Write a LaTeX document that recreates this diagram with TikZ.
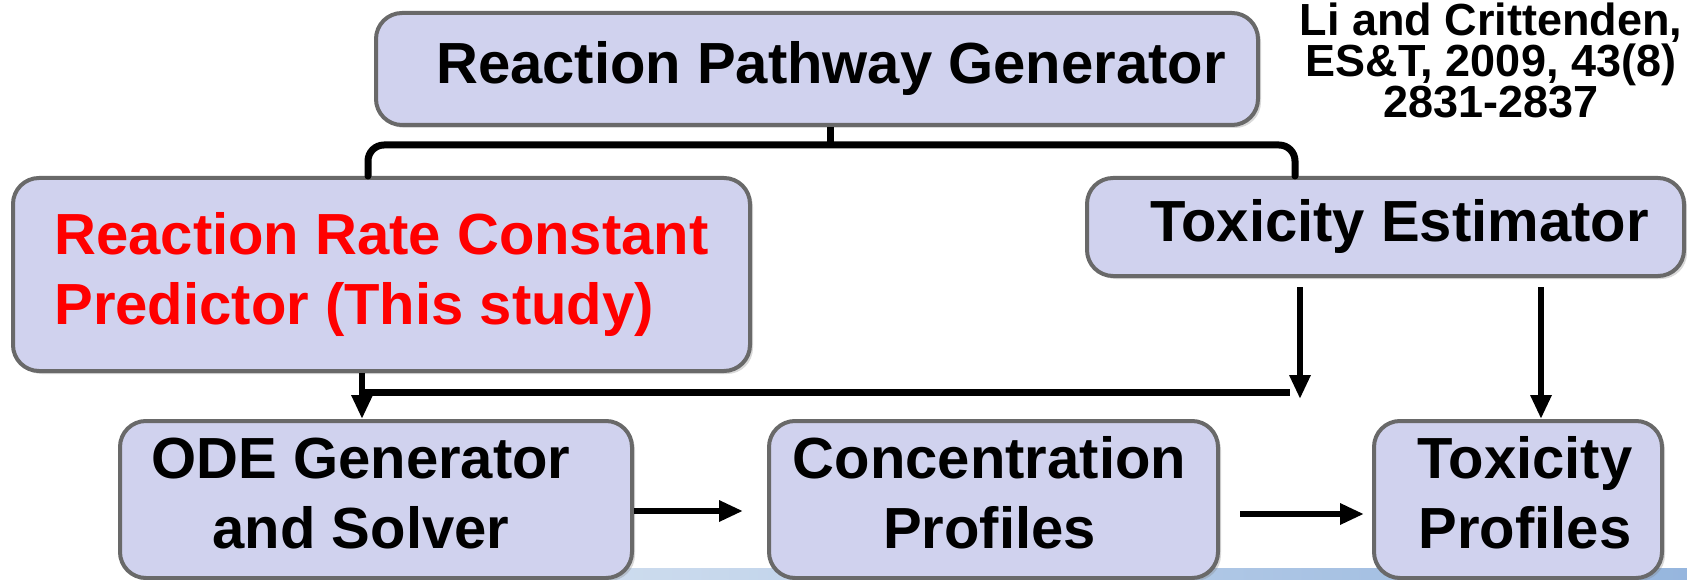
\documentclass[tikz,border=0pt]{standalone}
\usepackage{fontspec}
\setmainfont{Liberation Sans}
\usetikzlibrary{arrows.meta,shadows,calc}
\definecolor{boxfill}{RGB}{208,210,238}
\definecolor{boxline}{RGB}{105,105,105}
\definecolor{stripA}{RGB}{205,220,238}
\definecolor{stripB}{RGB}{150,182,222}
\tikzset{
  box/.style={draw=boxline, line width=4pt, fill=boxfill, rounded corners=26pt,
    inner sep=0pt, anchor=center,
    drop shadow={shadow xshift=3pt, shadow yshift=-3pt, opacity=0.3},
    font=\fontsize{58}{70}\selectfont\bfseries, align=center},
  brace/.style={line width=7pt, rounded corners=16pt, line cap=round},
  link/.style={line width=7pt},
  arr/.style={line width=6pt, -{Triangle[length=24pt,width=20pt]}},
  cite/.style={font=\fontsize{45}{41}\selectfont\bfseries, align=center, inner sep=0pt}
}
\begin{document}
\begin{tikzpicture}[x=1pt,y=-1pt]
\useasboundingbox (0,0) rectangle (1687,580);
% bottom strip
\shade[left color=stripA, right color=stripB] (600,568) rectangle (1687,580);
% boxes
\node[box, minimum width=882pt, minimum height=112pt] (top) at (817,69)
  {\hspace*{28pt}Reaction Pathway Generator};
\node[box, minimum width=737pt, minimum height=193pt, align=left, text=red] (rr) at (381.5,274.5)
  {Reaction Rate Constant\\Predictor (This study)};
\node[box, minimum width=597pt, minimum height=98pt] (te) at (1385.5,227)
  {\hspace*{28pt}Toxicity Estimator};
\node[box, minimum width=512pt, minimum height=157pt] (ode) at (376,499.5)
  {\raisebox{-5pt}{\begin{tabular}{@{}c@{}}ODE Generator\\and Solver\end{tabular}}\hspace*{30pt}};
\node[box, minimum width=449pt, minimum height=157pt] (conc) at (993.5,499.5)
  {\raisebox{-5pt}{\begin{tabular}{@{}c@{}}Concentration\\Profiles\end{tabular}}\hspace*{8pt}};
\node[box, minimum width=288pt, minimum height=157pt] (tp) at (1518,499.5)
  {\raisebox{-5pt}{\begin{tabular}{@{}c@{}}Toxicity\\Profiles\end{tabular}}\hspace*{-14pt}};
% citation
\node[cite] (cit) at (1491,60) {Li and Crittenden,\\ES\&T, 2009, 43(8)\\2831-2837};
% brace
\coordinate (bl) at (368,145);
\coordinate (br) at (1295,145);
\coordinate (bm) at (830,145);
\draw[brace] (rr.north -| bl) -- (bl) -- (br) -- (te.north -| br);
\draw[link] (top.south -| bm) -- (bm);
% junction lines
\coordinate (j1) at (362,392);
\coordinate (j2) at (1290,392);
\coordinate (tl) at (1300,399);
\draw[link] (j1) -- (j2);
\draw[arr] (rr.south -| j1) -- (ode.north -| j1);
\draw[arr, shorten <=9pt] (te.south -| tl) -- (tl);
\coordinate (tr) at (1541,0);
\draw[arr, shorten <=9pt] (te.south -| tr) -- (tp.north -| tr);
% horizontal arrows
\coordinate (h1) at (0,511);
\coordinate (h2) at (0,514);
\draw[arr, shorten >=24pt] (ode.east |- h1) -- (conc.west |- h1);
\draw[arr, shorten <=20pt, shorten >=8pt] (conc.east |- h2) -- (tp.west |- h2);
\end{tikzpicture}
\end{document}
